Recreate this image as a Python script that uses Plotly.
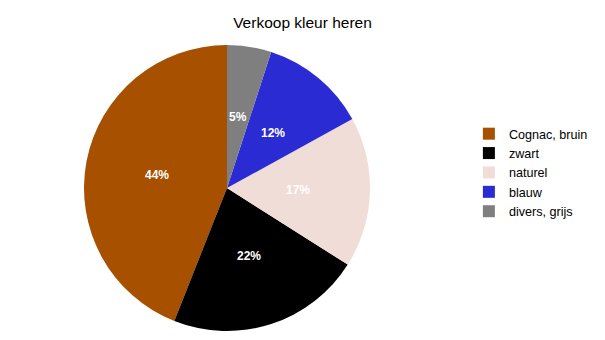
import math
import plotly.graph_objects as go

labels = ["Cognac, bruin", "zwart", "naturel", "blauw", "divers, grijs"]
values = [44, 22, 17, 12, 5]
colors = ["#A65000", "#000000", "#F0DDD8", "#2B2BD3", "#7F7F7F"]
title = "Verkoop kleur heren"

W, H = 605, 340
cx, cy, r = 227, 188, 143

# first slice runs counterclockwise from 12 o'clock
total = sum(values)
rot = -360.0 * values[0] / total

fig = go.Figure(go.Pie(
    labels=labels,
    values=values,
    marker=dict(colors=colors, line=dict(width=0)),
    sort=False,
    direction="counterclockwise",
    rotation=rot,
    textinfo="none",
    domain=dict(x=[(cx - r) / W, (cx + r) / W], y=[1 - (cy + r) / H, 1 - (cy - r) / H]),
    hoverinfo="label+percent",
))

# percentage labels at half radius along each slice's mid-angle (counterclockwise from top)
annotations = []
acc = 0.0
for v in values:
    mid = (acc + v / 2) / total * 2 * math.pi
    acc += v
    px = cx - 0.5 * r * math.sin(mid)
    py = cy - 0.5 * r * math.cos(mid)
    annotations.append(dict(
        x=px / W, y=1 - py / H, xref="paper", yref="paper",
        text=f"{round(100 * v / total)}%", showarrow=False,
        xanchor="center", yanchor="middle",
        font=dict(family="Arial", size=12, color="white", weight="bold"),
    ))

fig.update_layout(
    width=W, height=H,
    margin=dict(l=0, r=0, t=0, b=0),
    paper_bgcolor="white",
    plot_bgcolor="white",
    title=dict(text=title, x=0.5, xanchor="center", y=1 - 23 / H, yanchor="middle",
               font=dict(family="Arial", size=15.5, color="#000000")),
    legend=dict(x=0.775, y=1 - 119 / H, xanchor="left", yanchor="top",
                font=dict(family="Arial", size=12.6, color="#000000"),
                traceorder="normal", tracegroupgap=0),
    showlegend=True,
    annotations=annotations,
)

fig.write_html("out.html")
